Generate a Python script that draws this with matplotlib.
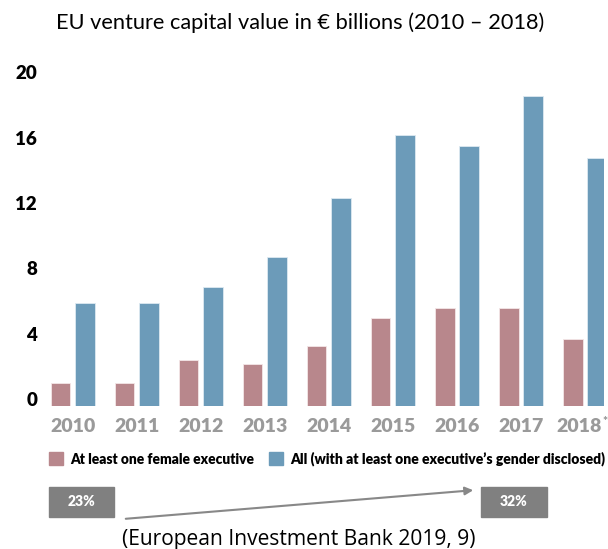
import matplotlib
matplotlib.use('Agg')
import matplotlib.pyplot as plt
import matplotlib.transforms as mtransforms
import numpy as np

years = ['2010', '2011', '2012', '2013', '2014', '2015', '2016', '2017', '2018']
female = [1.4, 1.4, 2.8, 2.6, 3.7, 5.4, 6.0, 6.0, 4.1]
all_exec = [6.3, 6.3, 7.3, 9.1, 12.7, 16.6, 15.9, 19.0, 15.2]
yticks = [0, 4, 8, 12, 16, 20]
legend_labels = ['At least one female executive', 'All (with at least one executive\u2019s gender disclosed)']
share_start = '23%'
share_end = '32%'
title = 'EU venture capital value in \u20ac billions (2010 \u2013 2018)'
caption = '(European Investment Bank 2019, 9)'

pink = '#b8878c'
blue = '#6c9bb9'
bold_font = ['Lato', 'DejaVu Sans']

W, H = 608, 549
fig = plt.figure(figsize=(W / 100, H / 100), dpi=100)
renderer = fig.canvas.get_renderer()


def fit_width(t, width_px):
	# shrink / grow the font until the text is about width_px wide
	for _ in range(3):
		w = t.get_window_extent(renderer=renderer).width
		t.set_fontsize(t.get_fontsize() * width_px / w)
	return t


# axes placed in pixel terms: baseline at y=406, left at x=40
ax = fig.add_axes([40 / W, 143 / H, 564 / W, (406 - 71) / H])
x = np.arange(len(years))
off = 0.19
bw = 0.31
ax.bar(x - off, female, bw, color=pink, edgecolor='#f3e6e7', linewidth=0.6)
ax.bar(x + off, all_exec, bw, color=blue, edgecolor='#dde9f1', linewidth=0.6)
ax.set_xlim(-0.51, 8.30)
ax.set_ylim(0, 20.5)

for s in ax.spines.values():
	s.set_visible(False)
ax.tick_params(length=0)
ax.set_yticks(yticks)
ax.set_yticklabels([str(v) for v in yticks], fontsize=13.5, fontweight='heavy', family=bold_font)
shift = mtransforms.ScaledTranslation(1.5 / 72, 5 / 72, fig.dpi_scale_trans)
for lab in ax.get_yticklabels():
	lab.set_transform(lab.get_transform() + shift)
ax.set_xticks(x)
ax.set_xticklabels(years, fontsize=14, fontweight='heavy', color='#9a9a9a', family=bold_font)
ax.tick_params(axis='x', pad=9)
last = ax.get_xticklabels()[-1]
last.set_transform(last.get_transform() + mtransforms.ScaledTranslation(-4 / 72, 0, fig.dpi_scale_trans))
# small asterisk after 2018
fig.text(602 / W, 1 - 422 / H, '*', fontsize=8.5, fontweight='heavy', color='#9a9a9a', va='center', family=bold_font)

# legend row
fig.patches.append(plt.Rectangle((49 / W, 1 - 465 / H), 14 / W, 13 / H, color=pink, transform=fig.transFigure))
t1 = fig.text(70 / W, 1 - 459 / H, legend_labels[0], fontsize=10, fontweight='heavy', va='center', family=bold_font)
fit_width(t1, 185)
fig.patches.append(plt.Rectangle((269 / W, 1 - 465 / H), 14 / W, 13 / H, color=blue, transform=fig.transFigure))
t2 = fig.text(290 / W, 1 - 459 / H, legend_labels[1], fontsize=10, fontweight='heavy', va='center', family=bold_font)
fit_width(t2, 312)

# share boxes and arrow
box = '#808080'
fig.patches.append(plt.Rectangle((49 / W, 1 - 517 / H), 65 / W, 30 / H, color=box, transform=fig.transFigure))
fig.patches.append(plt.Rectangle((481 / W, 1 - 517 / H), 66 / W, 30 / H, color=box, transform=fig.transFigure))
fig.text(81 / W, 1 - 502 / H, share_start, fontsize=10, fontweight='heavy', color='white', ha='center', va='center', family=bold_font)
fig.text(514 / W, 1 - 502 / H, share_end, fontsize=10, fontweight='heavy', color='white', ha='center', va='center', family=bold_font)
fig.add_artist(matplotlib.patches.FancyArrowPatch((123 / W, 1 - 519 / H), (476 / W, 1 - 490 / H),
               transform=fig.transFigure, arrowstyle='-|>', mutation_scale=12, color='#888888', lw=1.5))

tt = fig.text(300 / W, 1 - 23 / H, title, fontsize=14, ha='center', va='center', family=['Lato', 'DejaVu Sans'])
fit_width(tt, 489)
tc = fig.text(299 / W, 1 - 540 / H, caption, fontsize=14, ha='center', va='center', family=['Open Sans', 'DejaVu Sans'])
fit_width(tc, 352)

fig.savefig('out.png', dpi=100)
